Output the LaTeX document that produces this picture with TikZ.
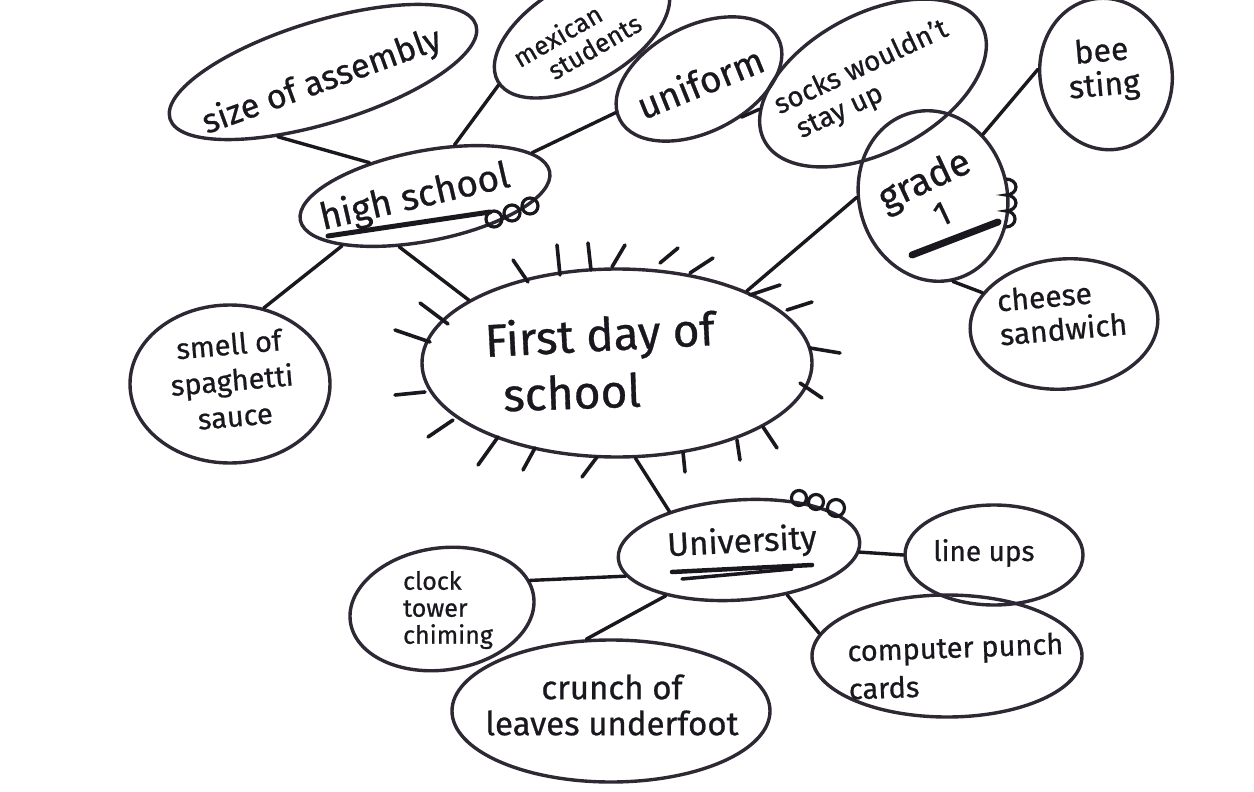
\documentclass[tikz,border=0pt]{standalone}
\usepackage{fontspec}
\setmainfont{Fira Sans}[FakeBold=0.7]
\usetikzlibrary{shapes.geometric}
\definecolor{ink}{HTML}{1A171E}
\definecolor{rim}{HTML}{2E2834}
\newcommand\fsz[2]{\fontsize{#1pt}{#2pt}\selectfont}
\tikzset{
  bubble/.style={draw=rim, line width=3.4pt, ellipse, inner sep=0pt},
  link/.style={draw=ink, line width=3.4pt, line cap=round},
  spike/.style={draw=ink, line width=3.6pt, line cap=round},
  hand/.style={text=ink, inner sep=0pt},
  uline/.style={draw=ink, line cap=round},
  curl/.style={draw=ink, line width=3.2pt}
}
\begin{document}
\begin{tikzpicture}[x=1pt,y=-1pt]
\fill[white] (0,0) rectangle (1254,792);
\useasboundingbox (0,0) rectangle (1254,792);
\clip (0,0) rectangle (1254,792);

% ---------- bubbles ----------
\node[bubble, minimum width=390pt, minimum height=188pt] (c) at (617,363) {};
\node[bubble, minimum width=254pt, minimum height=90pt, rotate=11] (hs) at (425,196) {};
\node[bubble, minimum width=320pt, minimum height=102pt, rotate=17] (sa) at (323,72) {};
\node[bubble, minimum width=194pt, minimum height=100pt, rotate=30] (ms) at (582,33) {};
\node[bubble, minimum width=178pt, minimum height=106pt, rotate=27] (un) at (699,79) {};
\node[bubble, minimum width=246pt, minimum height=138pt, rotate=28] (so) at (873,83) {};
\node[bubble, minimum width=132pt, minimum height=152pt, rotate=10] (bs) at (1106,74) {};
\node[bubble, minimum width=148pt, minimum height=172pt, rotate=15] (gr) at (933,196) {};
\node[bubble, minimum width=188pt, minimum height=130pt, rotate=5] (ch) at (1064,324) {};
\node[bubble, minimum width=200pt, minimum height=158pt] (sm) at (230,384) {};
\node[bubble, minimum width=242pt, minimum height=100pt, rotate=4] (uv) at (739,550) {};
\node[bubble, minimum width=185pt, minimum height=122pt, rotate=8] (cl) at (442,609) {};
\node[bubble, minimum width=178pt, minimum height=100pt] (lu) at (994,555) {};
\node[bubble, minimum width=270pt, minimum height=122pt] (cp) at (947,656) {};
\node[bubble, minimum width=318pt, minimum height=142pt] (cr) at (611,711) {};

% ---------- texts ----------
\node[hand, rotate=3, font=\fsz{46}{50}] (t1) at (600,338) {First day of};
\node[hand, rotate=2, font=\fsz{46}{50}] (t2) at (572,392) {school};
\node[hand, rotate=13, font=\fsz{37}{40}] (t3) at (415,198) {high school};
\node[hand, rotate=20, font=\fsz{34}{38}] (t4) at (322,82) {size of assembly};
\node[hand, rotate=30, align=left, font=\fsz{26}{28}] (t5) at (577,40) {mexican\\\hspace*{24pt}students};
\node[hand, rotate=22, font=\fsz{37}{40}] (t6) at (700,82) {uniform};
\node[hand, rotate=25, align=left, font=\fsz{28}{31}] (t7) at (868,82) {socks wouldn't\\\hspace*{10pt}stay up};
\node[hand, rotate=5, align=center, font=\fsz{32}{34}] (t8) at (1103,70) {bee\\sting};
\node[hand, rotate=25, font=\fsz{38}{42}] (t9) at (925,182) {grade};
\node[hand, rotate=25, font=\fsz{34}{38}] (t10) at (942,214) {1};
\node[hand, rotate=5, align=left, font=\fsz{30}{34}] (t11) at (1062,312) {cheese\\sandwich};
\node[hand, rotate=5, align=center, font=\fsz{29}{36}] (t12) at (232,380) {smell of\\spaghetti\\sauce};
\node[hand, rotate=3, font=\fsz{33}{36}] (t13) at (742,543) {University};
\node[hand, align=left, font=\fsz{25}{27}] (t14) at (448,610) {clock\\tower\\chiming};
\node[hand, font=\fsz{28}{30}] (t15) at (984,553) {line ups};
\node[hand, rotate=2, align=left, font=\fsz{29}{38}] (t16) at (956,666) {computer punch\\cards};
\node[hand, align=center, font=\fsz{33}{36}] (t17) at (612,705) {crunch of\\leaves underfoot};

% ---------- connectors ----------
\draw[link] (sa.218) -- (hs.138);
\draw[link] (ms.182) -- (hs.49);
\draw[link] (un.175) -- (hs.11);
\draw[link] (un.291) -- (so.165);
\draw[link] (hs.200) -- (sm.66);
\draw[link] (hs.232) -- (c.157);
\draw[link] (c.29) -- (gr.166);
\draw[link] (gr.36) -- (bs.166);
\draw[link] (gr.268) -- (ch.154);
\draw[link] (c.281) -- (uv.147);
\draw[link] (uv.189) -- (cl.10);
\draw[link] (uv.355) -- (lu.180);
\draw[link] (uv.313) -- (cp.170);
\draw[link] (uv.208) -- (cr.109);

% ---------- underlines ----------
\draw[uline, line width=5pt] (328,236) -- (490,212);
\draw[uline, line width=7pt] (912,255) -- (998,222);
\draw[uline, line width=4.5pt] (672,572) -- (812,565);
\draw[uline, line width=3.5pt] (682,579) -- (792,569);

% ---------- curls ----------
\draw[curl] (494,219) circle[radius=8];
\draw[curl] (512,213) circle[radius=8];
\draw[curl] (530,206) circle[radius=8];
\draw[curl] (799,498) circle[radius=7.5];
\draw[curl] (816,502) circle[radius=7.5];
\draw[curl] (836,508) circle[radius=8.5];
\draw[curl] (1006,179) arc[start angle=-90, end angle=90, x radius=10, y radius=8]
               arc[start angle=-90, end angle=90, x radius=10, y radius=8]
               arc[start angle=-90, end angle=90, x radius=9, y radius=8];

% ---------- spikes round the centre ----------
\foreach \a/\b/\p/\q in {
  395/330/430/342, 420/303/448/324, 513/260/528/282, 557/245/560/275,
  588/243/591/270, 625/245/612/267, 678/248/660/263, 713/258/690/273,
  780/285/750/295, 812/302/787/310, 840/353/810/348, 822/398/800/383,
  777/448/763/427, 740/460/737/440, 685/472/683/452, 582/477/597/457,
  523/470/535/448, 478/465/498/437, 428/437/453/420, 395/395/425/392}
  \draw[spike] (\a,\b) -- (\p,\q);
\end{tikzpicture}
\end{document}
